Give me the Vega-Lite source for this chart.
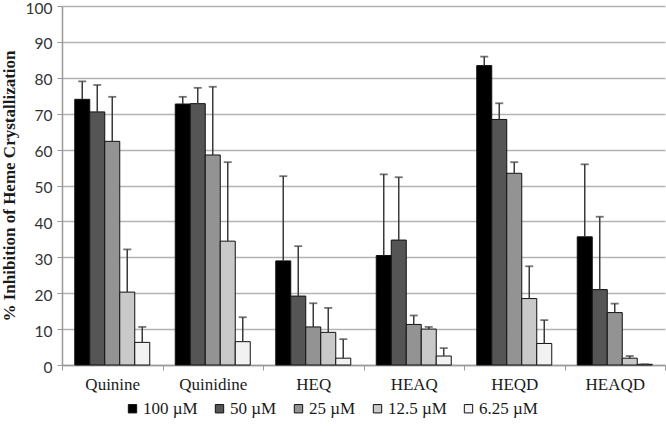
{
  "$schema": "https://vega.github.io/schema/vega-lite/v6.json",
  "width": 603,
  "height": 359,
  "autosize": "none",
  "padding": {"left": 62, "top": 6, "right": 1, "bottom": 68},
  "background": "white",
  "data": {
    "values": [
      {"drug": "Quinine", "conc": "100 µM", "value": 74.0, "err": 79.0},
      {"drug": "Quinine", "conc": "50 µM", "value": 70.5, "err": 78.0},
      {"drug": "Quinine", "conc": "25 µM", "value": 62.3, "err": 74.7},
      {"drug": "Quinine", "conc": "12.5 µM", "value": 20.3, "err": 32.2},
      {"drug": "Quinine", "conc": "6.25 µM", "value": 6.3, "err": 10.6},
      {"drug": "Quinidine", "conc": "100 µM", "value": 72.7, "err": 74.7},
      {"drug": "Quinidine", "conc": "50 µM", "value": 72.8, "err": 77.2},
      {"drug": "Quinidine", "conc": "25 µM", "value": 58.5, "err": 77.5},
      {"drug": "Quinidine", "conc": "12.5 µM", "value": 34.5, "err": 56.5},
      {"drug": "Quinidine", "conc": "6.25 µM", "value": 6.5, "err": 13.3},
      {"drug": "HEQ", "conc": "100 µM", "value": 29.0, "err": 52.6},
      {"drug": "HEQ", "conc": "50 µM", "value": 19.2, "err": 33.1},
      {"drug": "HEQ", "conc": "25 µM", "value": 10.6, "err": 17.2},
      {"drug": "HEQ", "conc": "12.5 µM", "value": 9.1, "err": 15.9},
      {"drug": "HEQ", "conc": "6.25 µM", "value": 1.9, "err": 7.2},
      {"drug": "HEAQ", "conc": "100 µM", "value": 30.5, "err": 53.1},
      {"drug": "HEAQ", "conc": "50 µM", "value": 34.8, "err": 52.3},
      {"drug": "HEAQ", "conc": "25 µM", "value": 11.3, "err": 13.8},
      {"drug": "HEAQ", "conc": "12.5 µM", "value": 10.0, "err": 10.6},
      {"drug": "HEAQ", "conc": "6.25 µM", "value": 2.5, "err": 4.7},
      {"drug": "HEQD", "conc": "100 µM", "value": 83.4, "err": 85.9},
      {"drug": "HEQD", "conc": "50 µM", "value": 68.4, "err": 72.9},
      {"drug": "HEQD", "conc": "25 µM", "value": 53.4, "err": 56.5},
      {"drug": "HEQD", "conc": "12.5 µM", "value": 18.5, "err": 27.5},
      {"drug": "HEQD", "conc": "6.25 µM", "value": 6.0, "err": 12.5},
      {"drug": "HEAQD", "conc": "100 µM", "value": 35.7, "err": 55.9},
      {"drug": "HEAQD", "conc": "50 µM", "value": 21.0, "err": 41.3},
      {"drug": "HEAQD", "conc": "25 µM", "value": 14.6, "err": 17.1},
      {"drug": "HEAQD", "conc": "12.5 µM", "value": 1.9, "err": 2.5},
      {"drug": "HEAQD", "conc": "6.25 µM", "value": 0.2, "err": 0.2}
    ]
  },
  "encoding": {
    "x": {
      "field": "drug",
      "type": "nominal",
      "sort": ["Quinine", "Quinidine", "HEQ", "HEAQ", "HEQD", "HEAQD"],
      "scale": {"paddingInner": 0, "paddingOuter": 0},
      "axis": {
        "title": null,
        "labelAngle": 0,
        "labelFont": "Liberation Serif",
        "labelFontSize": 17,
        "labelColor": "#1a1a1a",
        "labelPadding": 6,
        "tickBand": "extent",
        "tickSize": 5,
        "tickColor": "#999999",
        "domainColor": "#999999",
        "domainWidth": 1.5,
        "grid": false
      }
    },
    "xOffset": {
      "field": "conc",
      "type": "nominal",
      "sort": ["100 µM", "50 µM", "25 µM", "12.5 µM", "6.25 µM"],
      "scale": {"paddingInner": 0, "paddingOuter": 0.85}
    }
  },
  "layer": [
    {
      "mark": {"type": "bar", "stroke": "#111111", "strokeWidth": 1},
      "encoding": {
        "y": {
          "field": "value",
          "type": "quantitative",
          "scale": {"domain": [0, 100], "nice": false},
          "axis": {
            "title": "% Inhibition of Heme Crystallization",
            "titleFont": "Liberation Serif",
            "titleFontWeight": "bold",
            "titleFontSize": 17,
            "titleColor": "#1a1a1a",
            "titlePadding": 7,
            "values": [0, 10, 20, 30, 40, 50, 60, 70, 80, 90, 100],
            "labelFont": "Lato",
            "labelFontSize": 15.5,
            "labelColor": "#333333",
            "labelPadding": 5,
            "labelOffset": 2,
            "tickSize": 5,
            "tickColor": "#999999",
            "domainColor": "#999999",
            "domainWidth": 1.5,
            "gridColor": "#b3b3b3",
            "gridWidth": 1.5
          }
        },
        "color": {
          "field": "conc",
          "type": "nominal",
          "sort": ["100 µM", "50 µM", "25 µM", "12.5 µM", "6.25 µM"],
          "scale": {
            "domain": ["100 µM", "50 µM", "25 µM", "12.5 µM", "6.25 µM"],
            "range": ["#000000", "#555555", "#939393", "#c9c9c9", "#f2f2f2"]
          },
          "legend": {
            "title": null,
            "orient": "none",
            "direction": "horizontal",
            "legendX": 62,
            "legendY": 394,
            "symbolType": "square",
            "symbolSize": 70,
            "symbolStrokeColor": "#111111",
            "symbolStrokeWidth": 1,
            "labelFont": "Liberation Serif",
            "labelFontSize": 17,
            "labelColor": "#1a1a1a",
            "labelOffset": 2,
            "columnPadding": 13
          }
        }
      }
    },
    {
      "mark": {"type": "rule", "color": "#3a3a3a", "strokeWidth": 1.5},
      "encoding": {
        "y": {
          "field": "value",
          "type": "quantitative",
          "axis": {
            "title": "% Inhibition of Heme Crystallization",
            "values": [0, 10, 20, 30, 40, 50, 60, 70, 80, 90, 100]
          }
        },
        "y2": {"field": "err"}
      }
    },
    {
      "mark": {"type": "tick", "color": "#3a3a3a", "size": 8, "thickness": 1.8},
      "encoding": {
        "y": {
          "field": "err",
          "type": "quantitative",
          "axis": {
            "title": "% Inhibition of Heme Crystallization",
            "values": [0, 10, 20, 30, 40, 50, 60, 70, 80, 90, 100]
          }
        }
      }
    }
  ],
  "config": {
    "view": {"stroke": null}
  }
}
